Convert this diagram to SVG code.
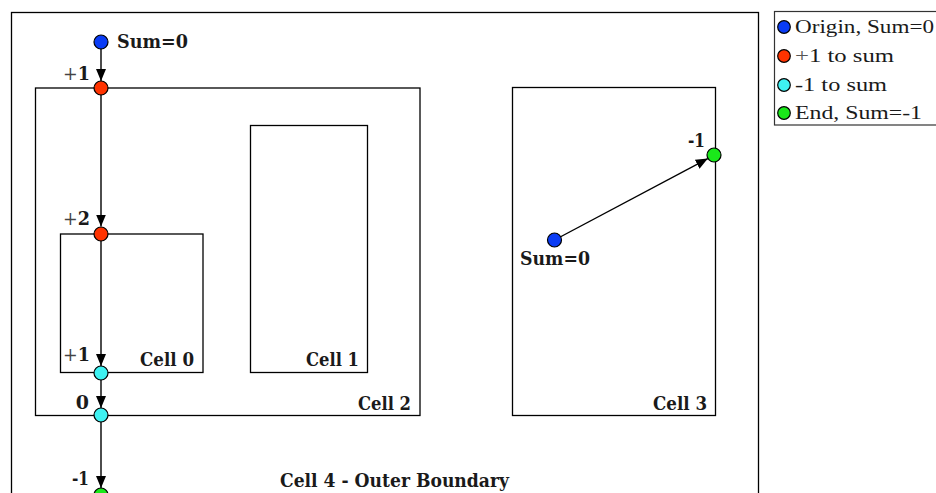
<svg xmlns="http://www.w3.org/2000/svg" width="936" height="493" viewBox="0 0 936 493">
<style>
.box{fill:none;stroke:#000;stroke-width:1.3}
.lbl{font-family:"DejaVu Serif","Liberation Serif",serif;font-weight:bold;font-size:18px;fill:#1a1a1a}
.num{font-size:19px}
.leg{font-family:"Liberation Serif","DejaVu Serif",serif;font-size:19.5px;fill:#1a1a1a}
.pl{font-weight:normal;fill:#444}
.edge{stroke:#000;stroke-width:1.4;fill:none;marker-end:url(#ah)}
.n{stroke:#000;stroke-width:1.2}
.blue{fill:#0a3cf5}.red{fill:#ff3300}.cyan{fill:#3ef2f2}.green{fill:#1ae81a}
</style>
<defs>
<marker id="ah" viewBox="0 0 12 10" refX="12" refY="5" markerWidth="12" markerHeight="10" markerUnits="userSpaceOnUse" orient="auto">
<path d="M0,0 L12,5 L0,10 z" fill="#000"/>
</marker>
</defs>
<rect width="936" height="493" fill="#fff"/>

<g id="cell4">
<rect class="box" x="11.5" y="12.5" width="747" height="500"/>
<text class="lbl" x="280" y="487" textLength="229" lengthAdjust="spacingAndGlyphs">Cell 4 - Outer Boundary</text>
</g>
<g id="cell2">
<rect class="box" x="35.5" y="88" width="384.5" height="327.5"/>
<text class="lbl" x="411" y="410" text-anchor="end" textLength="53" lengthAdjust="spacingAndGlyphs">Cell 2</text>
</g>
<g id="cell0">
<rect class="box" x="60.5" y="234" width="142.5" height="138.5"/>
<text class="lbl" x="194" y="366" text-anchor="end" textLength="54" lengthAdjust="spacingAndGlyphs">Cell 0</text>
</g>
<g id="cell1">
<rect class="box" x="250.5" y="125.5" width="117" height="247"/>
<text class="lbl" x="359" y="366" text-anchor="end" textLength="53" lengthAdjust="spacingAndGlyphs">Cell 1</text>
</g>
<g id="cell3">
<rect class="box" x="512.5" y="87.5" width="203" height="328"/>
<text class="lbl" x="707" y="410" text-anchor="end" textLength="54" lengthAdjust="spacingAndGlyphs">Cell 3</text>
</g>

<g id="legend">
<rect x="774.5" y="11.5" width="180" height="113.5" fill="#fff" stroke="#333" stroke-width="1.2"/>
<circle class="n blue" cx="784" cy="27" r="6.3"/>
<circle class="n red" cx="784" cy="56" r="6.3"/>
<circle class="n cyan" cx="784" cy="85" r="6.3"/>
<circle class="n green" cx="784" cy="113" r="6.3"/>
<text class="leg" x="795" y="33" textLength="139" lengthAdjust="spacingAndGlyphs">Origin, Sum=0</text>
<text class="leg" x="795" y="62" textLength="99" lengthAdjust="spacingAndGlyphs"><tspan fill="#555">+</tspan>1 to sum</text>
<text class="leg" x="795" y="91" textLength="92" lengthAdjust="spacingAndGlyphs">-1 to sum</text>
<text class="leg" x="795" y="119" textLength="127" lengthAdjust="spacingAndGlyphs">End, Sum=-1</text>
</g>

<g id="connectors">
<line class="edge" x1="101" y1="42" x2="101" y2="81"/>
<line class="edge" x1="101" y1="88" x2="101" y2="226.5"/>
<line class="edge" x1="101" y1="234" x2="101" y2="366"/>
<line class="edge" x1="101" y1="373" x2="101" y2="408"/>
<line class="edge" x1="101" y1="415" x2="101" y2="488"/>
<line class="edge" x1="554.5" y1="240" x2="707.8" y2="158.6"/>
</g>

<g id="n-origin">
<circle class="n blue" cx="101" cy="42" r="7"/>
<text class="lbl" x="117" y="48" textLength="71" lengthAdjust="spacingAndGlyphs">Sum=0</text>
</g>
<g id="n-p1">
<circle class="n red" cx="101" cy="88" r="7"/>
<text class="lbl num" x="90" y="80" text-anchor="end" textLength="27" lengthAdjust="spacingAndGlyphs"><tspan class="pl">+</tspan>1</text>
</g>
<g id="n-p2">
<circle class="n red" cx="101" cy="234" r="7"/>
<text class="lbl num" x="90" y="225" text-anchor="end" textLength="27" lengthAdjust="spacingAndGlyphs"><tspan class="pl">+</tspan>2</text>
</g>
<g id="n-m1a">
<circle class="n cyan" cx="101" cy="373" r="7"/>
<text class="lbl num" x="90" y="361" text-anchor="end" textLength="27" lengthAdjust="spacingAndGlyphs"><tspan class="pl">+</tspan>1</text>
</g>
<g id="n-m1b">
<circle class="n cyan" cx="101" cy="415" r="7"/>
<text class="lbl num" x="89" y="409" text-anchor="end">0</text>
</g>
<g id="n-end">
<circle class="n green" cx="101" cy="495" r="7"/>
<text class="lbl num" x="89" y="485" text-anchor="end" textLength="17" lengthAdjust="spacingAndGlyphs">-1</text>
</g>
<g id="n-origin2">
<circle class="n blue" cx="554.5" cy="240" r="7"/>
<text class="lbl" x="520" y="265" textLength="70" lengthAdjust="spacingAndGlyphs">Sum=0</text>
</g>
<g id="n-end2">
<circle class="n green" cx="714" cy="155" r="7"/>
<text class="lbl num" x="705" y="147" text-anchor="end" textLength="17" lengthAdjust="spacingAndGlyphs">-1</text>
</g>
</svg>
